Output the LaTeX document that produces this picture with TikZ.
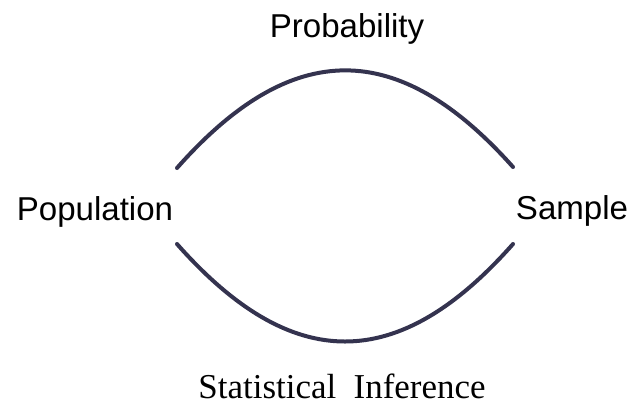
\documentclass[tikz,border=0pt]{standalone}
\usepackage{fontspec}
\setmainfont{Liberation Serif}
\setsansfont{Liberation Sans}
\usepackage{xcolor}
\usepackage{tikz}
\usetikzlibrary{positioning}

\definecolor{arcblue}{HTML}{34334F}

\begin{document}
\begin{tikzpicture}[
  x=0.75pt, y=-0.75pt,
  lab/.style={font=\sffamily\fontsize{24.8}{28}\selectfont, inner sep=0pt, anchor=base},
  serlab/.style={font=\rmfamily\fontsize{26.2}{30}\selectfont, inner sep=0pt, anchor=base},
  arc/.style={line width=3pt, draw=arcblue, line cap=round}
]
  \useasboundingbox (0,0) rectangle (631,405);

  % labels
  \node[lab] (prob) at (347,37) {Probability};
  \node[lab] (pop) at (95,220) {Population};
  \node[lab] (samp) at (572,219) {Sample};
  \node[serlab] (infer) at (342,398) {Statistical\ \ Inference};

  % arc ends
  \coordinate (tl) at (177,168);
  \coordinate (tr) at (513,167);
  \coordinate (bl) at (177,244);
  \coordinate (br) at (513,244);

  % arcs
  \draw[arc] (tl) .. controls (292,38) and (398,38) .. (tr);
  \draw[arc] (bl) .. controls (292,374) and (398,374) .. (br);
\end{tikzpicture}
\end{document}
